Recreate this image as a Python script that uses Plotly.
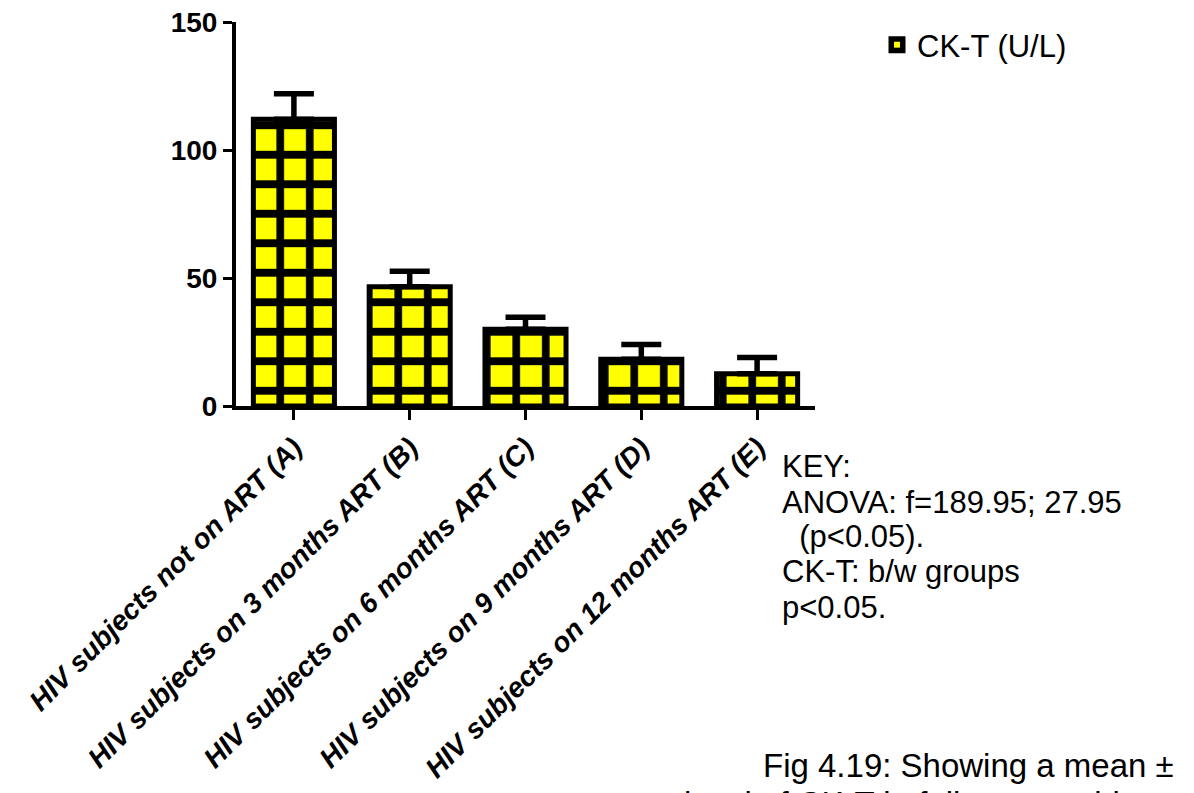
import plotly.graph_objects as go

categories = [
    "HIV subjects not on ART (A)",
    "HIV subjects on 3 months ART (B)",
    "HIV subjects on 6 months ART (C)",
    "HIV subjects on 9 months ART (D)",
    "HIV subjects on 12 months ART (E)",
]
means = [112, 46.6, 30, 18.3, 12.6]
errors = [10, 6, 4.7, 5.7, 6.3]
series_name = "CK-T (U/L)"
y_ticks = [0, 50, 100, 150]

key_lines = ["KEY:", "ANOVA: f=189.95; 27.95", "  (p<0.05).", "CK-T: b/w groups", "p<0.05."]
caption_lines = ["Fig 4.19: Showing a mean \u00b1", "level of CK-T in follow-up subjects"]

W, H = 1194, 793
L, R, T, B = 236, 815, 22, 406

def px(x):
    return (x - L) / (R - L)

def py(y):
    return (B - y) / (B - T)

FONT = "Liberation Sans, Arial, sans-serif"

fig = go.Figure()
fig.add_trace(go.Bar(
    x=categories,
    y=means,
    name=series_name,
    width=0.7,
    marker=dict(
        color="#ffff00",
        line=dict(color="black", width=5),
        pattern=dict(shape="+", fgcolor="black", bgcolor="#ffff00", fgopacity=1,
                     size=29.5, solidity=0.45, fillmode="overlay"),
    ),
    error_y=dict(type="data", symmetric=False, array=errors, arrayminus=[0] * len(errors),
                 color="black", thickness=5.5, width=20),
    showlegend=True,
))

annotations = []
key_x = [780, 780, 780, 780, 780]
key_y = [466.5, 502, 536.5, 571.5, 607]
for t, xx, yy in zip(key_lines, key_x, key_y):
    annotations.append(dict(
        text=t.replace(" ", "\u00a0") if t.startswith(" ") else t,
        xref="paper", yref="paper", x=px(xx), y=py(yy),
        xanchor="left", yanchor="middle", showarrow=False,
        font=dict(family=FONT, size=31, color="black"),
    ))
cap_x = [761, 682]
cap_y = [765, 803]
for t, xx, yy in zip(caption_lines, cap_x, cap_y):
    annotations.append(dict(
        text=t, xref="paper", yref="paper", x=px(xx), y=py(yy),
        xanchor="left", yanchor="middle", showarrow=False,
        font=dict(family=FONT, size=33, color="black"),
    ))

fig.update_layout(
    width=W, height=H,
    margin=dict(l=L, r=W - R, t=T, b=H - B, pad=0, autoexpand=False),
    paper_bgcolor="white", plot_bgcolor="white",
    font=dict(family=FONT, color="black"),
    showlegend=True,
    legend=dict(
        x=px(877), y=py(45), xanchor="left", yanchor="middle",
        font=dict(family=FONT, size=31, color="black"),
        bgcolor="rgba(0,0,0,0)",
    ),
    annotations=annotations,
    bargap=0.3,
)

fig.update_xaxes(
    range=[-0.5, 4.5], automargin=False,
    showline=True, linecolor="black", linewidth=4,
    ticks="outside", ticklen=10, tickwidth=3, tickcolor="black",
    tickangle=-45,
    tickfont=dict(family=FONT, size=28, color="black", weight="bold", style="italic"),
    showgrid=False, zeroline=False,
)
fig.update_yaxes(
    range=[0, 150], automargin=False,
    tickvals=y_ticks,
    showline=True, linecolor="black", linewidth=4,
    ticks="outside", ticklen=9, tickwidth=3, tickcolor="black",
    tickfont=dict(family=FONT, size=28, color="black", weight="bold"),
    showgrid=False, zeroline=False,
)

fig.write_html("out.html")
